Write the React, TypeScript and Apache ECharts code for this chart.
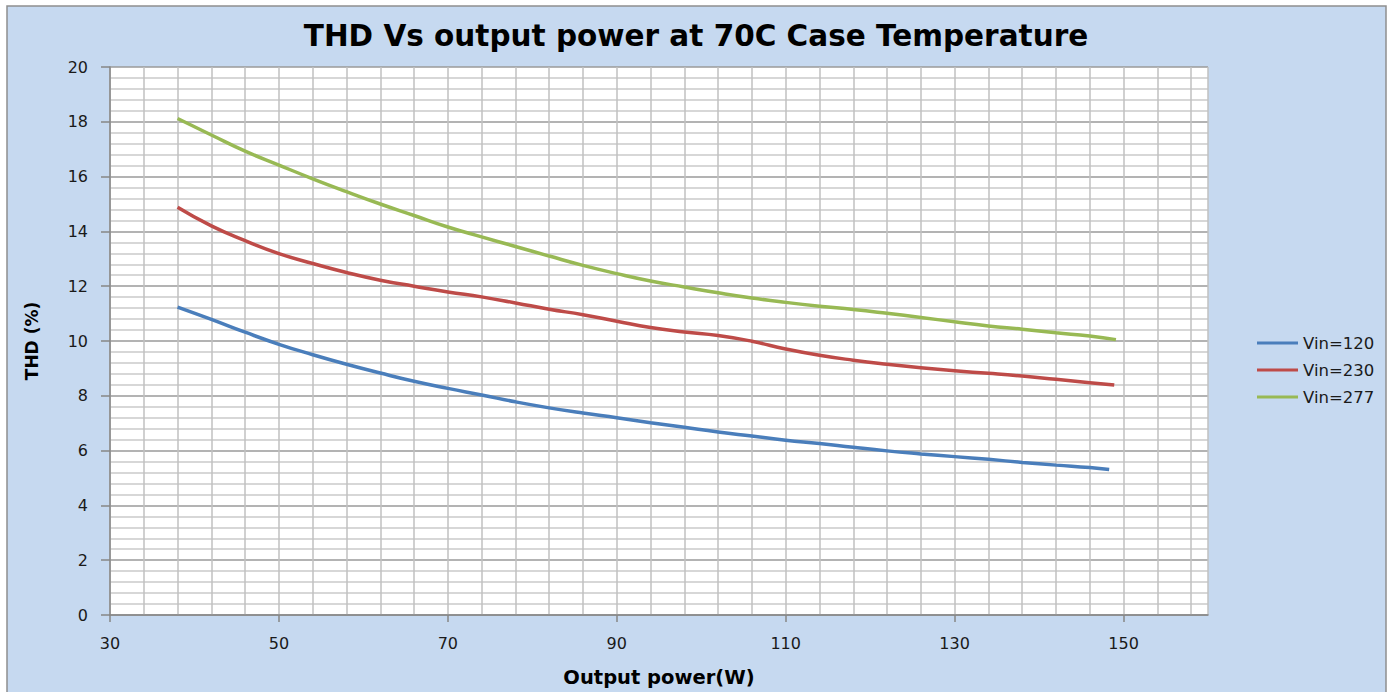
import React, { useEffect, useRef } from "react";
import * as echarts from "echarts";

const title = "THD Vs output power at 70C Case Temperature";
const xAxisName = "Output power(W)";
const yAxisName = "THD (%)";
const xTickLabels = [30, 50, 70, 90, 110, 130, 150];

const powerBase = [38, 42, 46, 50, 54, 58, 62, 66, 70, 74, 78, 82, 86, 90, 94, 98, 102, 106, 110, 114, 118, 122, 126, 130, 134, 138, 142, 146];

const power120 = [...powerBase, 148.3];
const thd120 = [11.24, 10.79, 10.32, 9.88, 9.5, 9.15, 8.83, 8.53, 8.27, 8.03, 7.78, 7.56, 7.37, 7.2, 7.02, 6.85, 6.68, 6.53, 6.38, 6.26, 6.12, 5.99, 5.88, 5.78, 5.68, 5.57, 5.47, 5.38, 5.31];

const power230 = [...powerBase, 148.9];
const thd230 = [14.88, 14.2, 13.66, 13.19, 12.83, 12.5, 12.22, 12.0, 11.79, 11.61, 11.39, 11.16, 10.96, 10.72, 10.49, 10.33, 10.2, 9.99, 9.71, 9.48, 9.3, 9.15, 9.02, 8.91, 8.82, 8.72, 8.6, 8.48, 8.39];

const power277 = [...powerBase, 149.1];
const thd277 = [18.12, 17.52, 16.93, 16.42, 15.92, 15.45, 15.0, 14.58, 14.16, 13.8, 13.45, 13.1, 12.76, 12.46, 12.19, 11.97, 11.76, 11.57, 11.41, 11.27, 11.15, 11.01, 10.86, 10.7, 10.55, 10.43, 10.3, 10.18, 10.05];

const seriesNames = ["Vin=120", "Vin=230", "Vin=277"];
const seriesColors = ["#4A7EBB", "#BE4B48", "#98B954"];

const zip = (xs: number[], ys: number[]) => xs.map((x, i) => [x, ys[i]]);

export default function App() {
  const ref = useRef<HTMLDivElement>(null);
  useEffect(() => {
    if (!ref.current) return;
    const chart = echarts.init(ref.current, null, { renderer: "svg" });
    const font = "DejaVu Sans";
    const datasets = [zip(power120, thd120), zip(power230, thd230), zip(power277, thd277)];
    chart.setOption({
      animation: false,
      backgroundColor: "#ffffff",
      graphic: [
        {
          type: "rect",
          z: -10,
          shape: { x: 7, y: 6, width: 1379, height: 700 },
          style: { fill: "#C6D9F0", stroke: "#8E8E8E", lineWidth: 1.5 },
        },
      ],
      title: {
        text: title,
        left: "center",
        top: 16,
        textStyle: { fontFamily: font, fontWeight: "bold", fontSize: 29.5, color: "#000" },
      },
      grid: {
        left: 110,
        top: 67,
        width: 1098,
        height: 549,
        show: true,
        backgroundColor: "#ffffff",
        borderWidth: 0,
      },
      legend: {
        orient: "vertical",
        left: 1252,
        top: 329,
        icon: "rect",
        itemWidth: 41,
        itemHeight: 3,
        itemGap: 9,
        data: seriesNames,
        textStyle: { fontFamily: font, fontSize: 16.5, color: "#1a1a1a", lineHeight: 18 },
      },
      xAxis: [
        {
          type: "value",
          min: 30,
          max: 160,
          name: xAxisName,
          nameLocation: "middle",
          nameGap: 52,
          nameTextStyle: { fontFamily: font, fontWeight: "bold", fontSize: 19.5, color: "#000" },
          axisLine: { show: true, lineStyle: { color: "#868686", width: 1.5 } },
          axisTick: { show: true, length: 7, inside: false, customValues: xTickLabels, lineStyle: { color: "#868686", width: 1.5 } },
          axisLabel: { customValues: xTickLabels, margin: 20, fontFamily: font, fontSize: 16, color: "#1a1a1a" },
          splitLine: { show: false },
        },
        {
          type: "value",
          min: 0,
          max: 130,
          interval: 4,
          position: "bottom",
          axisLine: { show: false },
          axisTick: { show: false },
          axisLabel: { show: false },
          splitLine: { show: true, lineStyle: { color: "#C0C0C0", width: 1.5 } },
        },
      ],
      yAxis: {
        type: "value",
        min: 0,
        max: 20,
        interval: 2,
        name: yAxisName,
        nameLocation: "middle",
        nameRotate: 90,
        nameGap: 70,
        nameTextStyle: { fontFamily: font, fontWeight: "bold", fontSize: 17, color: "#000" },
        axisLine: { show: true, lineStyle: { color: "#868686", width: 1.5 } },
        axisTick: { show: true, length: 9, inside: false, lineStyle: { color: "#868686", width: 1.5 } },
        axisLabel: { margin: 22, fontFamily: font, fontSize: 16, color: "#1a1a1a" },
        splitLine: { show: true, lineStyle: { color: "#9A9A9A", width: 1.5 } },
        minorTick: { show: false, splitNumber: 5 },
        minorSplitLine: { show: true, lineStyle: { color: "#CACACA", width: 1.5 } },
      },
      series: datasets.map((d, i) => ({
        name: seriesNames[i],
        type: "line",
        xAxisIndex: 0,
        data: d,
        smooth: 0.5,
        showSymbol: false,
        symbol: "none",
        lineStyle: { color: seriesColors[i], width: 3.5 },
        itemStyle: { color: seriesColors[i] },
      })),
    });
    return () => chart.dispose();
  }, []);
  return <div ref={ref} style={{ position: "fixed", left: 0, top: 0, width: 1392, height: 692 }} />;
}
